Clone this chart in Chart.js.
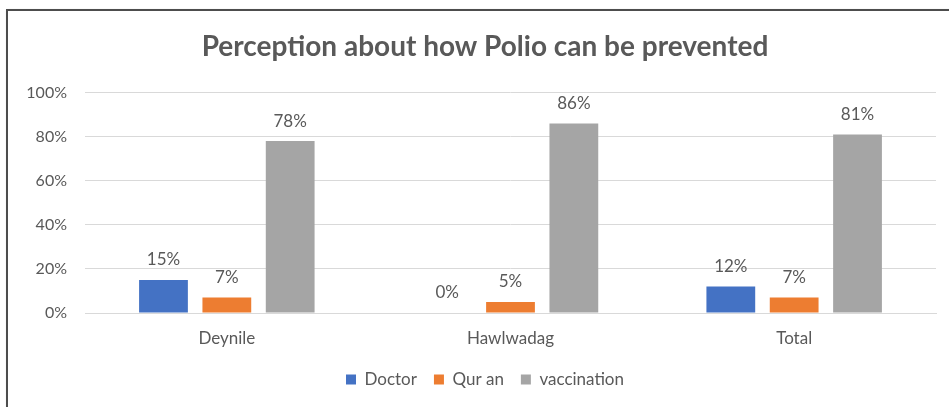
<!DOCTYPE html>
<html>
<head>
<meta charset="utf-8">
<script src="https://cdn.jsdelivr.net/npm/chart.js@4"></script>
<style>
    html, body { margin: 0; padding: 0; background: #fff; overflow: hidden; }
    #cadre {
        position: absolute; left: 6px; top: 9px; width: 960px; height: 420px;
        border: 2px solid #4d4d4d; box-shadow: 1px 1px 2px #bbb;
    }
    #zone { position: absolute; left: 0; top: 0; width: 949px; height: 407px; }
</style>
</head>
<body>
<div id="cadre"></div>
<div id="zone"><canvas id="graphiquePolio" width="949" height="407"></canvas></div>
<script>
const categories = ["Deynile", "Hawlwadag", "Total"];
const docteur = [15, 0, 12];
const coran = [7, 5, 7];
const vaccination = [78, 86, 81];
const ticksY = [0, 20, 40, 60, 80, 100];

const gris = "#595959";
const police = "Lato, 'Open Sans', sans-serif";

// pourcentages au-dessus de chaque barre
const etiquettes = {
    id: "etiquettes",
    afterDatasetsDraw(chart) {
        const ctx = chart.ctx;
        ctx.save();
        ctx.fillStyle = gris;
        ctx.font = "17px " + police;
        ctx.textAlign = "center";
        ctx.textBaseline = "middle";
        chart.data.datasets.forEach((ds, i) => {
            chart.getDatasetMeta(i).data.forEach((barre, j) => {
                ctx.fillText(ds.data[j] + "%", barre.x, barre.y - 20);
            });
        });
        ctx.restore();
    }
};

// le cadre du graphique dépasse à droite : titre et légende centrés un peu plus loin
const recentrer = {
    id: "recentrer",
    afterLayout(chart) {
        const decalage = 17;
        [chart.titleBlock, chart.legend].forEach(bloc => {
            bloc.left += decalage;
            bloc.right += decalage;
        });
    }
};

new Chart(document.getElementById("graphiquePolio"), {
    type: "bar",
    data: {
        labels: categories,
        datasets: [
            { label: "Doctor", data: docteur, backgroundColor: "#4472C4" },
            { label: "Qur an", data: coran, backgroundColor: "#ED7D31" },
            { label: "vaccination", data: vaccination, backgroundColor: "#A5A5A5" }
        ]
    },
    options: {
        responsive: false,
        animation: false,
        devicePixelRatio: 1,
        layout: { padding: { left: 0, right: 13, top: 0, bottom: 9 } },
        datasets: { bar: { categoryPercentage: 0.67, barPercentage: 0.77 } },
        plugins: {
            title: {
                display: true,
                text: "Perception about how Polio can be prevented",
                color: gris,
                font: { family: police, size: 28, weight: "bold" },
                padding: { top: 30, bottom: 29 }
            },
            legend: {
                position: "bottom",
                labels: {
                    color: gris,
                    font: { family: police, size: 17 },
                    boxWidth: 10,
                    boxHeight: 10,
                    padding: 17
                }
            },
            tooltip: { enabled: false }
        },
        scales: {
            x: {
                afterFit(scale) { scale.height = 41; },
                grid: { display: false },
                border: { color: "#D9D9D9" },
                ticks: { color: gris, font: { family: police, size: 17 }, padding: 7 }
            },
            y: {
                min: 0,
                max: 100,
                afterFit(scale) { scale.width = 85; },
                afterBuildTicks(scale) { scale.ticks = ticksY.map(v => ({ value: v })); },
                grid: { color: "#D9D9D9", drawTicks: false },
                border: { display: false },
                ticks: {
                    color: gris,
                    font: { family: police, size: 16 },
                    padding: 18,
                    callback: v => v + "%"
                }
            }
        }
    },
    plugins: [etiquettes, recentrer]
});
</script>
</body>
</html>
